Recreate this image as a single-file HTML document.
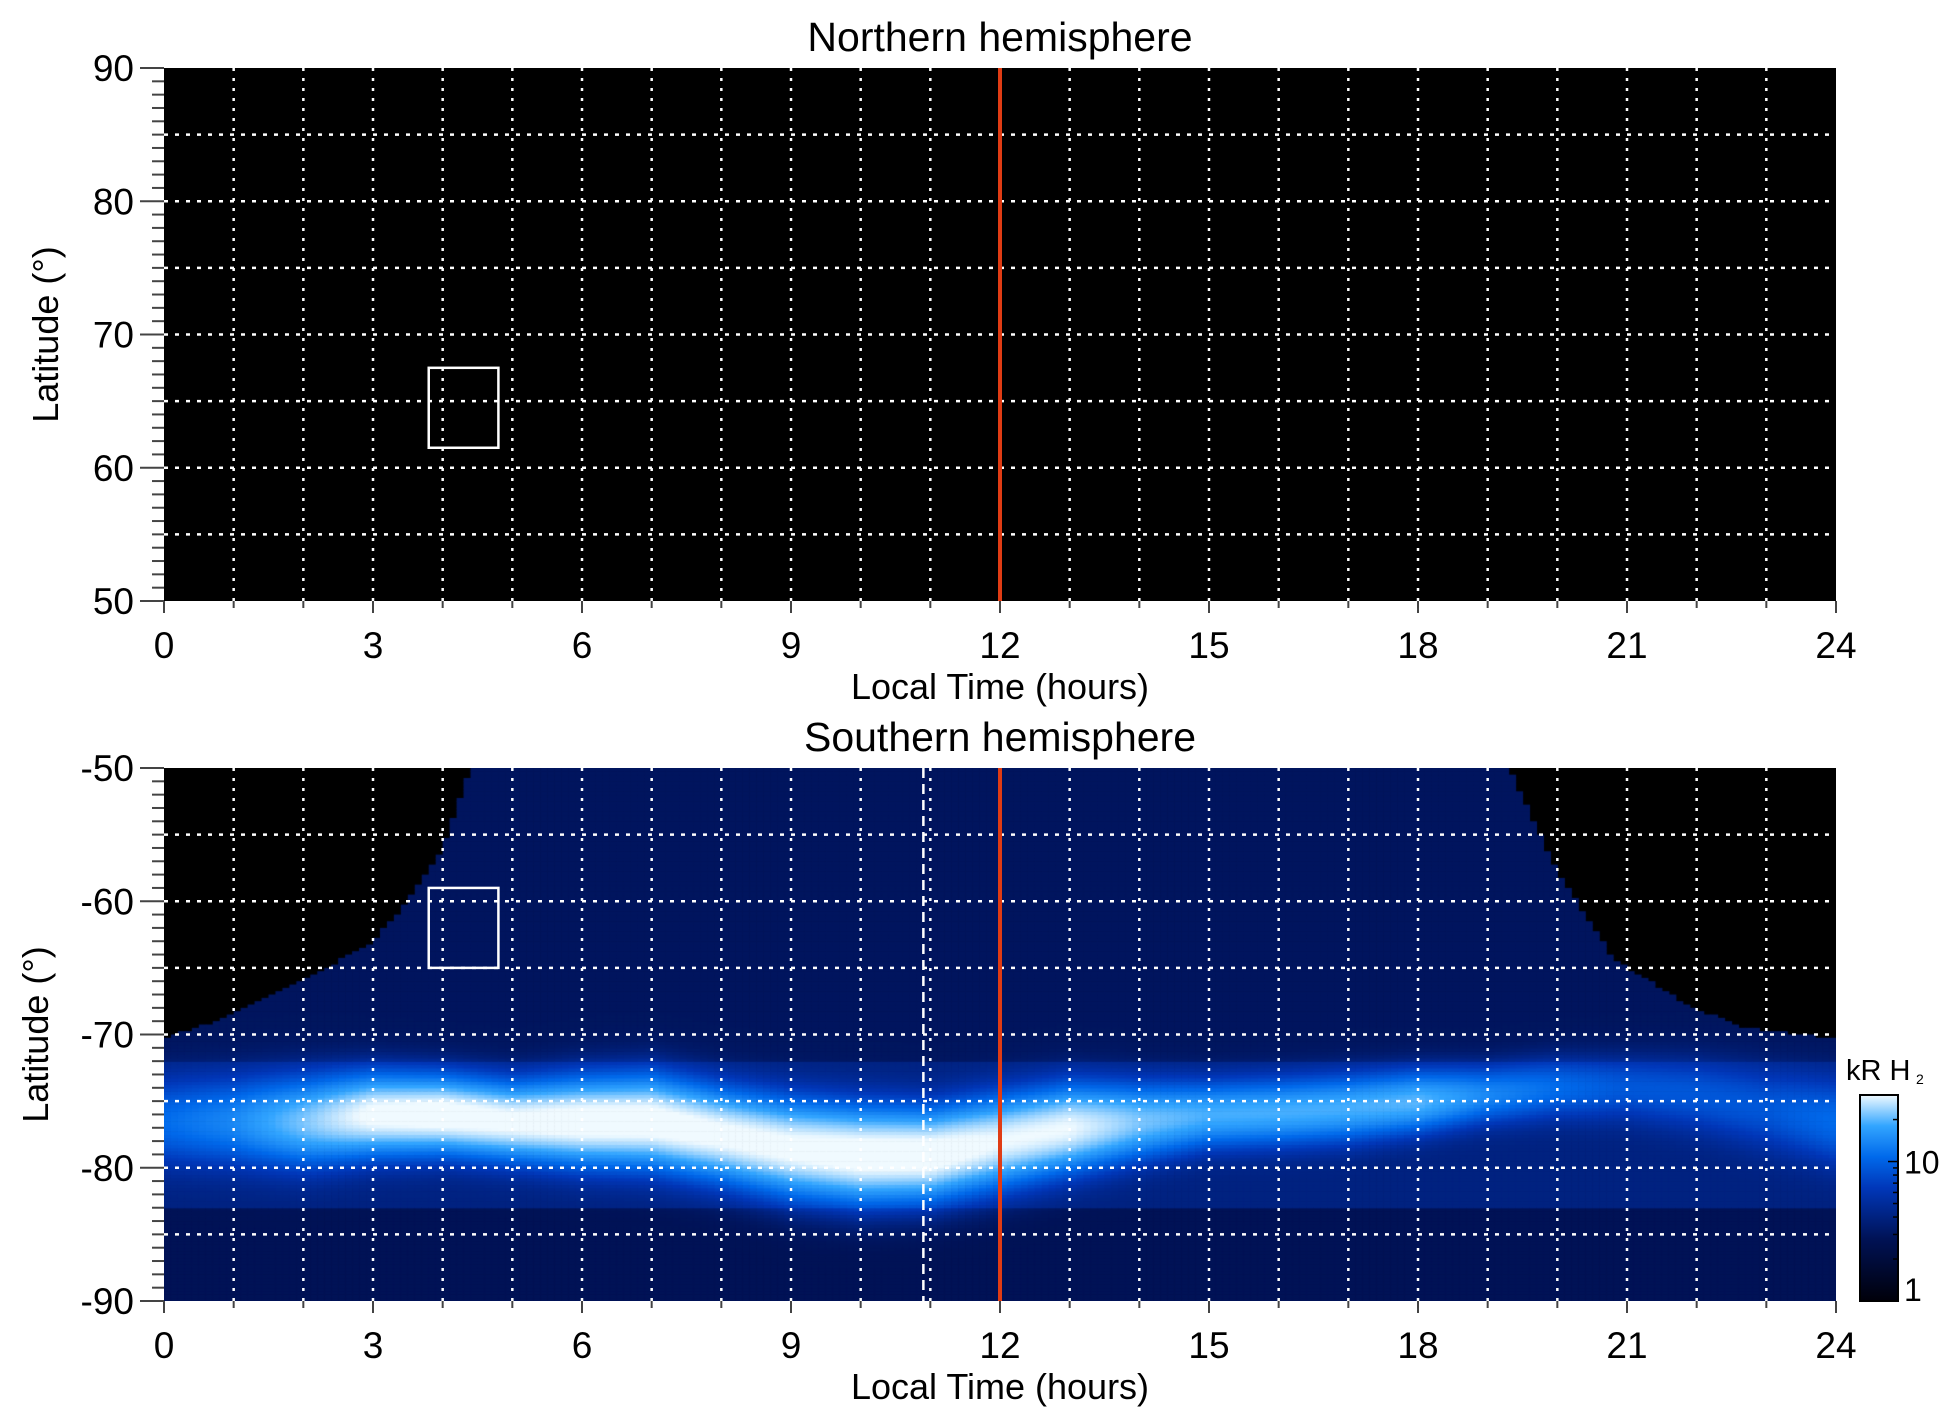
<!DOCTYPE html>
<html><head><meta charset="utf-8"><style>
html,body{margin:0;padding:0;background:#fff;}
#wrap{position:relative;width:1950px;height:1423px;font-family:"Liberation Sans",sans-serif;}
canvas{position:absolute;left:164px;top:768px;}
svg{position:absolute;left:0;top:0;}
</style></head><body>
<div id="wrap">
<canvas id="heat" width="1672" height="533"></canvas>
<svg id="svg" width="1950" height="1423"></svg>
</div>
<script>
// ---- data ----
const hoursTicks=[0,3,6,9,12,15,18,21,24];
const northLatTicks=[50,60,70,80,90];
const southLatTicks=[-90,-80,-70,-60,-50];
const ovalHours=[0,1,2,3,4,5,6,7,8,9,10,11,12,13,14,15,16,17,18,19,20,21,22,23,24];
const ovalCenterLat=[-76.5,-76.5,-76.5,-76,-76,-76.5,-76.5,-76.5,-77.5,-78.5,-79,-79,-78,-77,-76.5,-76,-75.8,-75.5,-75,-74.5,-74,-74,-74.5,-75.5,-76.5];
const ovalPeakKR=[7,10,18,28,30,28,30,30,28,28,30,30,26,26,18,15,15,15,16,10,7,5,5,5,7];
const ovalWidthDeg=[2.0,2.0,2.0,1.8,1.7,1.7,1.9,2.0,2.0,2.1,2.1,2.0,2.0,1.9,1.7,1.5,1.5,1.5,1.4,1.3,1.4,1.5,1.7,1.9,2.0];
const edgeHours=[0,1,2,3,3.5,4,4.4,19.3,20,20.8,21.8,22.6,24];
const edgeLat=[-70.3,-68.5,-66,-63,-60,-56,-50,-50,-57.8,-64.3,-67.6,-69.4,-70.3];
const redLineHour=12;
const dashedLineHour=10.9;
const boxHours=[3.8,4.8];
const northBoxLat=[61.5,67.5];
const southBoxLat=[-65,-59];
const cbTicks=[1,10];

// ---- geometry ----
const X0=164,X1=1836;
const NT=68,NB=601,ST=768,SB=1301;
const xs=h=>X0+(X1-X0)*h/24;
const yN=l=>NB-(NB-NT)*(l-50)/40;
const yS=l=>SB-(SB-ST)*(l+90)/40;
function interp(xa,ya,x){for(let i=0;i<xa.length-1;i++){if(x<=xa[i+1]){const t=(x-xa[i])/(xa[i+1]-xa[i]);return ya[i]+t*(ya[i+1]-ya[i]);}}return ya[ya.length-1];}
const stops=[[0,[0,0,10]],[0.3,[0,18,85]],[0.55,[0,55,185]],[0.7,[0,105,235]],[0.85,[50,165,255]],[1,[240,250,255]]];
function cmap(v){let t=Math.log10(Math.max(v,1))/Math.log10(30);t=Math.min(1,Math.max(0,t));
 for(let i=0;i<stops.length-1;i++){if(t<=stops[i+1][0]){const a=stops[i],b=stops[i+1],u=(t-a[0])/(b[0]-a[0]);return a[1].map((c,k)=>Math.round(c+u*(b[1][k]-c)));}}return stops[stops.length-1][1];}

// ---- heatmap ----
const cv=document.getElementById('heat'),ctx=cv.getContext('2d');
ctx.fillStyle='#000';ctx.fillRect(0,0,cv.width,cv.height);
const dh=0.1,dl=0.25;
for(let h=0;h<24;h+=dh){const hc=h+dh/2;const edge=interp(edgeHours,edgeLat,hc);
 const c=interp(ovalHours,ovalCenterLat,hc),p=interp(ovalHours,ovalPeakKR,hc),w=interp(ovalHours,ovalWidthDeg,hc);
 for(let l=-90;l<-50;l+=dl){const lc=l+dl/2;if(lc>edge)continue;
  let bg=lc>-72?3.0:(lc<-83?2.8:4.0);
  const v=bg+p*Math.exp(-0.5*Math.pow((lc-c)/w,2));
  const col=cmap(v);ctx.fillStyle=`rgb(${col[0]},${col[1]},${col[2]})`;
  ctx.fillRect(xs(h)-X0,yS(l+dl)-ST,xs(h+dh)-xs(h)+0.6,yS(l)-yS(l+dl)+0.6);}}

// ---- svg ----
const svg=document.getElementById('svg');const NS='http://www.w3.org/2000/svg';
function el(tag,attrs,txt){const e=document.createElementNS(NS,tag);for(const k in attrs)e.setAttribute(k,attrs[k]);if(txt!==undefined)e.textContent=txt;svg.appendChild(e);return e;}
function panel(top,bot,ylab,ticks,yf,lo,name,title,box,black){
 if(black){const r=el('rect',{x:X0,y:top,width:X1-X0,height:bot-top,fill:'#000'});}
 for(let h=1;h<24;h++){const g=el('line',{x1:xs(h),x2:xs(h),y1:top,y2:bot,stroke:'#fff','stroke-width':2.5,'stroke-dasharray':'3 7'});}
 for(let l=lo+5;l<lo+40;l+=5){const g=el('line',{x1:X0,x2:X1,y1:yf(l),y2:yf(l),stroke:'#fff','stroke-width':2.5,'stroke-dasharray':'4 7'});}
 for(let l=lo;l<=lo+40;l++){const major=(l%10===0);const t=el('line',{x1:X0-(major?24:12),x2:X0,y1:yf(l),y2:yf(l),stroke:'#444','stroke-width':2});}
 for(let h=0;h<=24;h++){const t=el('line',{x1:xs(h),x2:xs(h),y1:bot,y2:bot+(h%3===0?12:7),stroke:'#444','stroke-width':2});}
 ticks.forEach(v=>{const t=el('text',{x:X0-30,y:yf(v)+13,'text-anchor':'end','font-size':37},v);});
 hoursTicks.forEach(v=>{const t=el('text',{x:xs(v),y:bot+57,'text-anchor':'middle','font-size':37},v);});
 const xt=el('text',{x:(X0+X1)/2,y:bot+98,'text-anchor':'middle','font-size':36},'Local Time (hours)');
 const yt=el('text',{x:0,y:0,'text-anchor':'middle','font-size':36,transform:`translate(${ylab},${(top+bot)/2}) rotate(-90)`},'Latitude (°)');
 const tt=el('text',{x:(X0+X1)/2,y:top-17,'text-anchor':'middle','font-size':41},title);
 const rl=el('line',{x1:xs(redLineHour),x2:xs(redLineHour),y1:top,y2:bot,stroke:'#e03c14','stroke-width':4});
 const bx=el('rect',{x:xs(boxHours[0]),y:yf(box[1]),width:xs(boxHours[1])-xs(boxHours[0]),height:yf(box[0])-yf(box[1]),fill:'none',stroke:'#fff','stroke-width':2.5});
}
panel(NT,NB,58,northLatTicks,yN,50,'north','Northern hemisphere',northBoxLat,true);
const dl2=el('line',{x1:xs(dashedLineHour),x2:xs(dashedLineHour),y1:ST,y2:SB,stroke:'#fff','stroke-width':2.5,'stroke-dasharray':'10 6'});

panel(ST,SB,48,southLatTicks,yS,-90,'south','Southern hemisphere',southBoxLat,false);

// colorbar
const CX=1860,CW=38,CT=1095,CB=1301;
const defs=el('defs',{});const lg=document.createElementNS(NS,'linearGradient');lg.setAttribute('id','cbg');lg.setAttribute('x1',0);lg.setAttribute('y1',1);lg.setAttribute('x2',0);lg.setAttribute('y2',0);defs.appendChild(lg);
stops.forEach(s=>{const st=document.createElementNS(NS,'stop');st.setAttribute('offset',s[0]);st.setAttribute('stop-color',`rgb(${s[1].join(',')})`);lg.appendChild(st);});
const cb=el('rect',{x:CX,y:CT,width:CW,height:CB-CT,fill:'url(#cbg)',stroke:'#000','stroke-width':2});
const cbY=v=>CB-(CB-CT)*Math.log10(v)/Math.log10(30);
cbTicks.forEach(v=>{const t=el('text',{x:CX+CW+6,y:cbY(v)+(v===1?0:12),'font-size':32},v);});
for(let v=2;v<30;v++){if(v>10&&v%10)continue;const y=cbY(v);const t=el('line',{x1:CX+CW-(v===10?10:5),x2:CX+CW,y1:y,y2:y,stroke:'#000','stroke-width':1.5});}
const cl=el('text',{x:1846,y:1080,'font-size':29},'kR H');
const cs=el('text',{x:1916,y:1084,'font-size':14},'2');
</script>
</body></html>
